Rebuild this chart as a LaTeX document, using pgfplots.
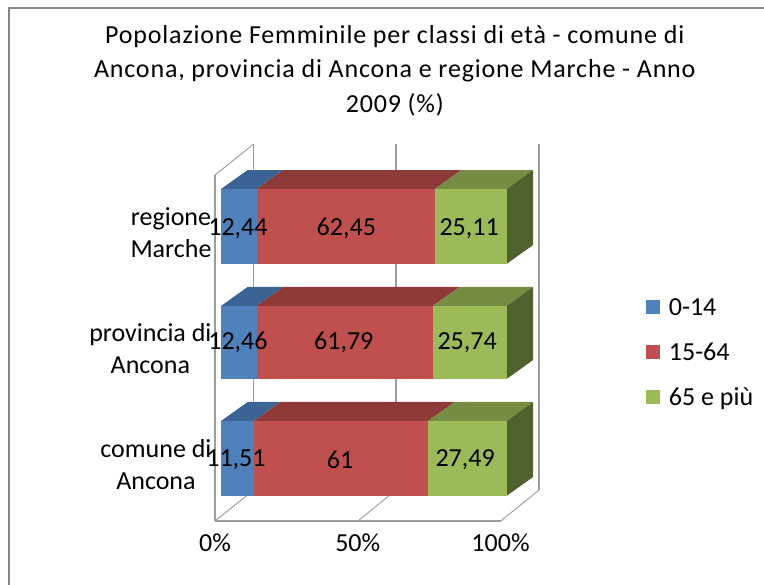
\documentclass[border=0pt]{standalone}
\usepackage{pgfplots}
\pgfplotsset{compat=1.18}
\usepackage{fontspec}
\setmainfont{Carlito}
\newfontfamily\titlefont[LetterSpace=3.2]{Carlito}
\definecolor{bluef}{HTML}{4F81BD}\definecolor{bluet}{HTML}{3B6494}
\definecolor{redf}{HTML}{C0504D}\definecolor{redt}{HTML}{8E3A38}
\definecolor{greenf}{HTML}{9BBB59}\definecolor{greent}{HTML}{758C43}
\definecolor{greens}{HTML}{4F612D}\definecolor{wall}{HTML}{9C9C9C}
\newcommand{\chartfont}{\fontsize{26pt}{32pt}\selectfont}
\begin{document}
\begin{tikzpicture}
\useasboundingbox (0pt,0pt) rectangle (764pt,585pt);
\draw[wall!85!black,line width=1.5pt] (9pt,0pt) -- (9pt,577pt) -- (764pt,577pt);
\begin{axis}[
  at={(215pt,64pt)},anchor=south west,
  scale only axis,width=285.8pt,height=346pt,
  xmin=-2.1,xmax=98,ymin=-0.539,ymax=2.444,
  clip=false,
  axis x line*=bottom,axis y line*=left,
  axis line style={-,draw=wall,line width=1.5pt},
  major tick length=0pt,
  xtick={-2.1,47.9,97.9},xticklabels={0\%,50\%,100\%},
  ytick={0,1,2},
  yticklabels={{comune di\\Ancona},{provincia di\\Ancona},{regione\\Marche}},
  ticklabel style={font=\chartfont},
  xticklabel style={yshift=-9pt},
  yticklabel style={align=center,yshift=-6pt,xshift=0pt},
  title={Popolazione Femminile per classi di età - comune di\\Ancona, provincia di Ancona e regione Marche - Anno\\2009 (\%)},
  title style={at={(0.629,1.4255)},anchor=north,align=center,font=\titlefont\fontsize{26pt}{34.5pt}\selectfont},
  legend style={at={(1.507,0.65)},anchor=north west,draw=none,fill=none,
    font=\chartfont,row sep=22pt,inner sep=0pt,cells={anchor=west}},
]
% back wall lines
\addplot[forget plot,wall,line width=1.3pt] coordinates {(11.45,-0.272)(11.45,2.711)};
\addplot[forget plot,wall,line width=1.3pt] coordinates {(61.3,-0.272)(61.3,2.711)};
\addplot[forget plot,wall,line width=1.3pt] coordinates {(111.4,-0.272)(111.4,2.711)};
\addplot[forget plot,wall,line width=0.9pt] coordinates {(-2.1,2.444)(11.45,2.711)};
\addplot[forget plot,wall,line width=0.9pt] coordinates {(-2.1,-0.539)(11.45,-0.272)};
\addplot[forget plot,wall,line width=0.9pt] coordinates {(47.98,-0.539)(61.3,-0.272)};
\addplot[forget plot,wall,line width=0.9pt] coordinates {(97.97,-0.539)(111.4,-0.272)};
% comune di Ancona: 11.51 / 61 / 27.49
\addplot[forget plot,fill=bluet,draw=none] coordinates {(0,0.323)(11.51,0.323)(20.86,0.487)(9.35,0.487)} --cycle;
\addplot[forget plot,fill=redt,draw=none] coordinates {(11.51,0.323)(72.51,0.323)(81.86,0.487)(20.86,0.487)} --cycle;
\addplot[forget plot,fill=greent,draw=none] coordinates {(72.51,0.323)(100,0.323)(109.35,0.487)(81.86,0.487)} --cycle;
\addplot[forget plot,fill=greens,draw=none] coordinates {(100,-0.323)(100,0.323)(109.35,0.487)(109.35,-0.159)} --cycle;
\addplot[forget plot,fill=bluef,draw=none] coordinates {(0,-0.323)(11.51,-0.323)(11.51,0.323)(0,0.323)} --cycle;
\addplot[forget plot,fill=redf,draw=none] coordinates {(11.51,-0.323)(72.51,-0.323)(72.51,0.323)(11.51,0.323)} --cycle;
\addplot[forget plot,fill=greenf,draw=none] coordinates {(72.51,-0.323)(100,-0.323)(100,0.323)(72.51,0.323)} --cycle;
% provincia di Ancona: 12.46 / 61.79 / 25.74
\addplot[forget plot,fill=bluet,draw=none] coordinates {(0,1.315)(12.46,1.315)(21.81,1.479)(9.35,1.479)} --cycle;
\addplot[forget plot,fill=redt,draw=none] coordinates {(12.46,1.315)(74.25,1.315)(83.6,1.479)(21.81,1.479)} --cycle;
\addplot[forget plot,fill=greent,draw=none] coordinates {(74.25,1.315)(100,1.315)(109.35,1.479)(83.6,1.479)} --cycle;
\addplot[forget plot,fill=greens,draw=none] coordinates {(100,0.685)(100,1.315)(109.35,1.479)(109.35,0.849)} --cycle;
\addplot[forget plot,fill=bluef,draw=none] coordinates {(0,0.685)(12.46,0.685)(12.46,1.315)(0,1.315)} --cycle;
\addplot[forget plot,fill=redf,draw=none] coordinates {(12.46,0.685)(74.25,0.685)(74.25,1.315)(12.46,1.315)} --cycle;
\addplot[forget plot,fill=greenf,draw=none] coordinates {(74.25,0.685)(100,0.685)(100,1.315)(74.25,1.315)} --cycle;
% regione Marche: 12.44 / 62.45 / 25.11
\addplot[forget plot,fill=bluet,draw=none] coordinates {(0,2.323)(12.44,2.323)(21.79,2.487)(9.35,2.487)} --cycle;
\addplot[forget plot,fill=redt,draw=none] coordinates {(12.44,2.323)(74.89,2.323)(84.24,2.487)(21.79,2.487)} --cycle;
\addplot[forget plot,fill=greent,draw=none] coordinates {(74.89,2.323)(100,2.323)(109.35,2.487)(84.24,2.487)} --cycle;
\addplot[forget plot,fill=greens,draw=none] coordinates {(100,1.677)(100,2.323)(109.35,2.487)(109.35,1.841)} --cycle;
\addplot[forget plot,fill=bluef,draw=none] coordinates {(0,1.677)(12.44,1.677)(12.44,2.323)(0,2.323)} --cycle;
\addplot[forget plot,fill=redf,draw=none] coordinates {(12.44,1.677)(74.89,1.677)(74.89,2.323)(12.44,2.323)} --cycle;
\addplot[forget plot,fill=greenf,draw=none] coordinates {(74.89,1.677)(100,1.677)(100,2.323)(74.89,2.323)} --cycle;
% value labels
\addplot[forget plot,only marks,mark=none,point meta=explicit symbolic,
  nodes near coords,nodes near coords align={center},
  every node near coord/.append style={font=\chartfont,text=black,inner sep=0pt}]
 coordinates {
 (5.25,-0.015)[11,51] (41.7,-0.015)[61] (85.5,-0.015)[27,49]
 (5.95,1.0)[12,46] (43,1.0)[61,79] (86.2,1.0)[25,74]
 (5.95,1.98)[12,44] (43.9,1.98)[62,45] (86.9,1.98)[25,11]};
% legend
\addlegendimage{legend image code/.code={\fill[bluef,draw=none] (0pt,-7pt) rectangle (14pt,7pt);\path[draw=none,fill=none] (0pt,0pt) -- (21pt,0pt);}}
\addlegendentry{0-14}
\addlegendimage{legend image code/.code={\fill[redf,draw=none] (0pt,-7pt) rectangle (14pt,7pt);\path[draw=none,fill=none] (0pt,0pt) -- (21pt,0pt);}}
\addlegendentry{15-64}
\addlegendimage{legend image code/.code={\fill[greenf,draw=none] (0pt,-7pt) rectangle (14pt,7pt);\path[draw=none,fill=none] (0pt,0pt) -- (21pt,0pt);}}
\addlegendentry{65 e più}
\end{axis}
\end{tikzpicture}
\end{document}
